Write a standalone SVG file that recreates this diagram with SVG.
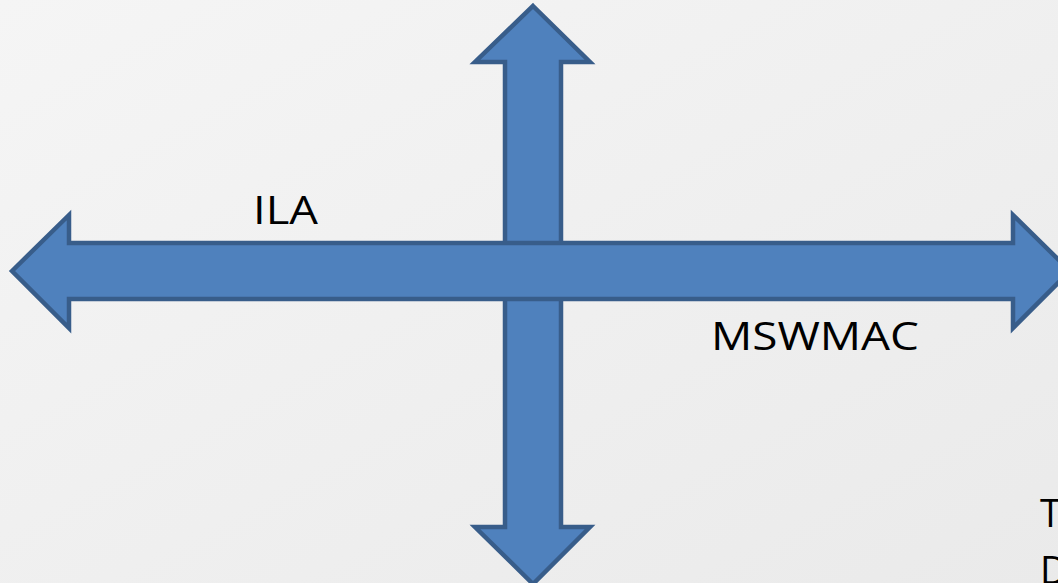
<svg xmlns="http://www.w3.org/2000/svg" width="1058" height="583" viewBox="0 0 1058 583">
<defs>
<linearGradient id="bg" x1="0" y1="0" x2="1" y2="1">
<stop offset="0" stop-color="#f5f5f5"/>
<stop offset="1" stop-color="#eaeaea"/>
</linearGradient>
<style>
.arrow{fill:#4f81bd;stroke:#385d8a;stroke-width:4.5;stroke-linejoin:miter}
.lbl{font-family:"Open Sans","Liberation Sans",sans-serif;font-size:38px;fill:#000}
</style>
</defs>
<rect width="1058" height="583" fill="url(#bg)"/>
<g id="vertical-arrow">
<path class="arrow" d="M533,6 L590,62 L561,62 L561,527 L590,527 L533,584 L475,527 L505,527 L505,62 L475,62 Z"/>
</g>
<g id="horizontal-arrow">
<path class="arrow" d="M12,271 L69,215 L69,243 L1013,243 L1013,215 L1070,271 L1013,328 L1013,299 L69,299 L69,328 Z"/>
</g>
<g id="labels">
<text class="lbl" x="253" y="224" textLength="65" lengthAdjust="spacingAndGlyphs">ILA</text>
<text class="lbl" x="711" y="350" textLength="208" lengthAdjust="spacingAndGlyphs">MSWMAC</text>
<text class="lbl" x="1040" y="527">T</text>
<text class="lbl" x="1040" y="584">D</text>
</g>
</svg>
